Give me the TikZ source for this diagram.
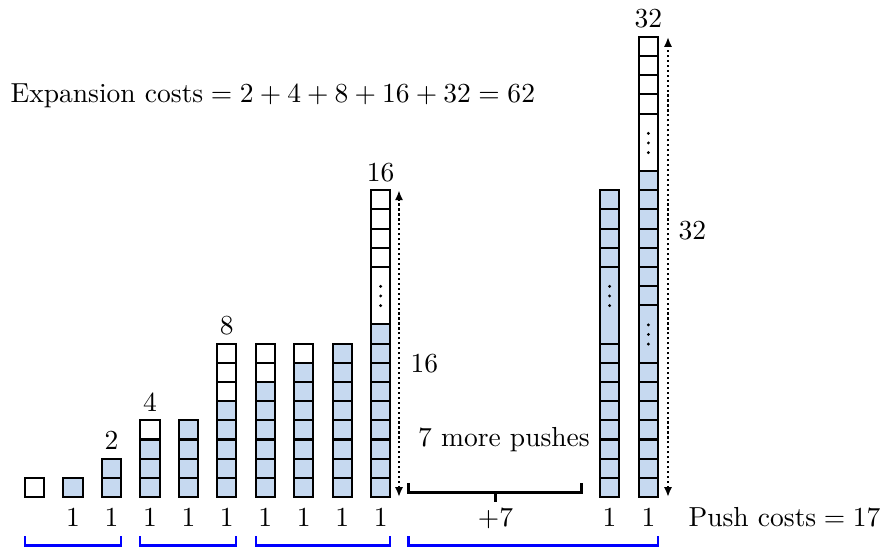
\documentclass[tikz,border=0pt]{standalone}
\usetikzlibrary{arrows.meta}
\definecolor{cellblue}{RGB}{198,217,240}
\tikzset{
  cellline/.style={line width=0.75pt, draw=black},
  fullcell/.style={cellline, fill=cellblue},
  emptycell/.style={cellline, fill=white},
  bluebrk/.style={line width=0.75pt, draw=blue},
  blackbrk/.style={line width=0.75pt, draw=black},
  dimarrow/.style={densely dotted, line width=0.8pt, {Latex[length=3.6pt,width=3pt]}-{Latex[length=3.6pt,width=3pt]}},
  lbl/.style={anchor=base, inner sep=0pt},
  lblw/.style={anchor=base west, inner sep=0pt},
}
% #1 x-left, #2 bottom index, #3 height in cells, #4 style
\newcommand\mkcell[4]{\path[#4] ({#1},{497-(#2)*19.17}) rectangle ({#1+19.2},{497-(#2+#3)*19.17});}
% #1 x-left, #2 centre y of dots
\newcommand\mkdots[2]{\foreach \dd in {-9.6,0,9.6}{\fill ({#1+9.6},{#2+\dd}) circle (1.6);}}
\begin{document}
\begin{tikzpicture}[x=0.3633pt,y=-0.3633pt]
\useasboundingbox (0,0) rectangle (881,548);

% simple columns
\foreach \i/\nb/\nw in {1/0/1, 2/1/0, 3/2/0, 4/3/1, 5/4/0, 6/5/3, 7/6/2, 8/7/1, 9/8/0}{
  \pgfmathsetmacro\xx{25+38.45*(\i-1)}
  \ifnum\nb>0 \foreach \k in {1,...,\nb}{\mkcell{\xx}{\k-1}{1}{fullcell}}\fi
  \ifnum\nw>0 \foreach \k in {1,...,\nw}{\mkcell{\xx}{\nb+\k-1}{1}{emptycell}}\fi
}

% column 10 (capacity 16)
\def\xa{371.05}
\foreach \k in {0,...,8}{\mkcell{\xa}{\k}{1}{fullcell}}
\mkcell{\xa}{9}{3}{emptycell}
\mkdots{\xa}{296}
\foreach \k in {12,...,15}{\mkcell{\xa}{\k}{1}{emptycell}}

% column 11 (full 16)
\def\xb{600}
\foreach \k in {0,...,7}{\mkcell{\xb}{\k}{1}{fullcell}}
\mkcell{\xb}{8}{4}{fullcell}
\mkdots{\xb}{296}
\foreach \k in {12,...,15}{\mkcell{\xb}{\k}{1}{fullcell}}

% column 12 (capacity 32)
\def\xc{638.8}
\foreach \k in {0,...,6}{\mkcell{\xc}{\k}{1}{fullcell}}
\mkcell{\xc}{7}{3}{fullcell}
\mkdots{\xc}{334.5}
\foreach \k in {10,...,16}{\mkcell{\xc}{\k}{1}{fullcell}}
\mkcell{\xc}{17}{3}{emptycell}
\mkdots{\xc}{143}
\foreach \k in {20,...,23}{\mkcell{\xc}{\k}{1}{emptycell}}

% capacity labels
\node[lbl] (cap2) at (111.5,450) {$2$};
\node[lbl] (cap4) at (149.95,411.3) {$4$};
\node[lbl] (cap8) at (226.85,334.6) {$8$};
\node[lbl] (cap16) at (380.65,181.3) {$16$};
\node[lbl] (cap32) at (648.4,28) {$32$};

% dotted dimension arrows
\coordinate (d16b) at (399,497);
\coordinate (d16t) at (399,190.3);
\draw[dimarrow] (d16b) -- (d16t);
\node[lblw] (dim16) at (410,373) {$16$};
\coordinate (d32b) at (668,497);
\coordinate (d32t) at (668,37);
\draw[dimarrow] (d32b) -- (d32t);
\node[lblw] (dim32) at (678,240) {$32$};

% push costs
\foreach \i in {2,...,10}{
  \pgfmathsetmacro\xx{25+38.45*(\i-1)+9.6}
  \node[lbl] (one\i) at (\xx,527) {$1$};
}
\node[lbl] (one11) at (609.6,527) {$1$};
\node[lbl] (one12) at (648.4,527) {$1$};
\node[lbl] (plus7) at (495.5,527) {$+7$};
\node[lblw] (push) at (688,527) {$\mbox{Push costs} = 17$};

% 7 more pushes
\node[lbl] (more) at (504,447) {7 more pushes};
\coordinate (mbl) at (408.5,492.5);
\coordinate (mbr) at (581.5,492.5);
\coordinate (mbm) at (495.5,492.5);
\draw[blackbrk] (mbl) ++(0,-9.5) -- (mbl) -- (mbr) -- ++(0,-9.5);
\draw[blackbrk] (mbm) -- ++(0,10);

% blue brackets
\foreach \a/\b in {25/121.1, 140.35/236.45, 255.7/390.25, 408.5/658}{
  \draw[bluebrk] (\a,536.5) -- (\a,545.5) -- (\b,545.5) -- (\b,536.5);
}

% expansion costs
\node[lblw] (exp) at (10,103) {$\mbox{Expansion costs} = 2 + 4 + 8 + 16 + 32 = 62$};
\end{tikzpicture}
\end{document}
